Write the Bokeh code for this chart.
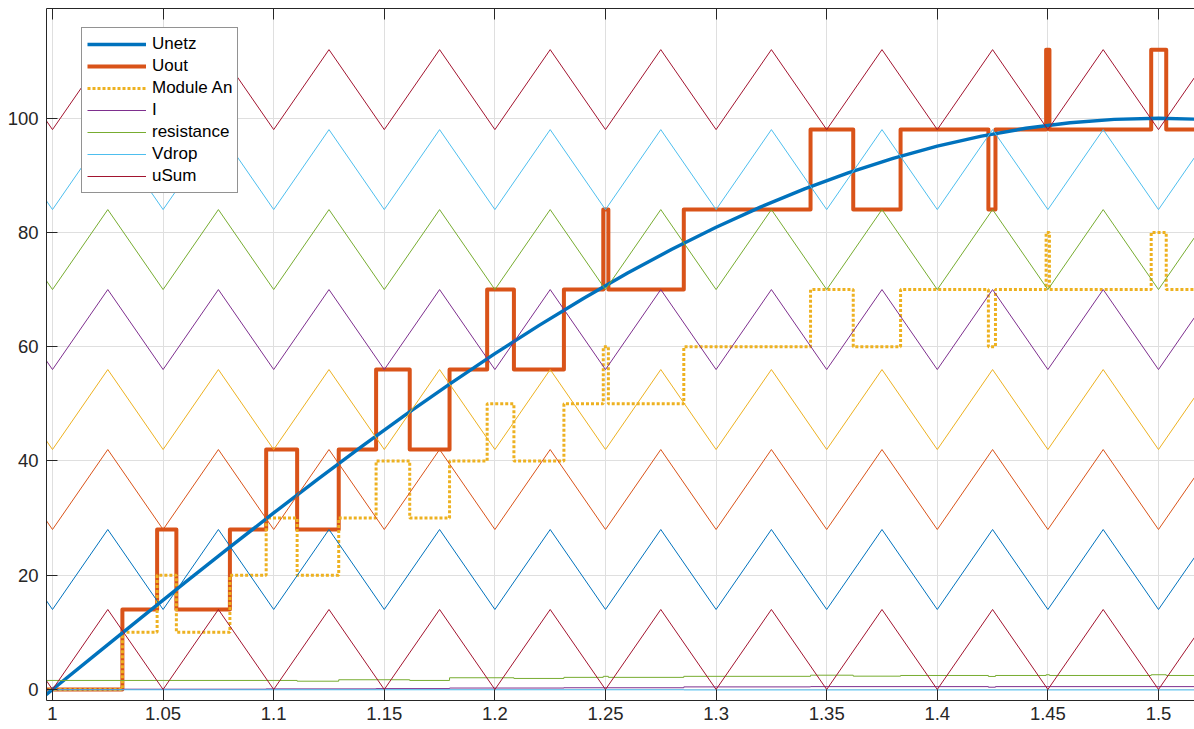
from bokeh.plotting import figure
from bokeh.models import (Range1d, FixedTicker, NumeralTickFormatter, LinearAxis, Legend,
                          LegendItem, CustomJSTickFormatter)
from bokeh.embed import file_html
from bokeh.resources import INLINE

FONT = "Liberation Sans"
AX = "#262626"

# ---------------- data ----------------
x_ticks = [1.0, 1.05, 1.1, 1.15, 1.2, 1.25, 1.3, 1.35, 1.4, 1.45, 1.5]
y_ticks = [0, 20, 40, 60, 80, 100]

# Unetz (grid voltage)
unetz_t = [0.996, 1.00, 1.02, 1.04, 1.06, 1.08, 1.10, 1.12, 1.14, 1.16, 1.18, 1.20, 1.22, 1.24,
           1.26, 1.28, 1.30, 1.32, 1.34, 1.36, 1.38, 1.40, 1.42, 1.44, 1.46, 1.48, 1.50, 1.52]
unetz_v = [-1.26, 0.0, 6.28, 12.53, 18.74, 24.87, 30.90, 36.81, 42.58, 48.18, 53.58, 58.78, 63.74, 68.45,
           72.90, 77.05, 80.90, 84.43, 87.63, 90.48, 92.98, 95.11, 96.86, 98.23, 99.21, 99.80, 100.0, 99.80]

# Uout and Module An (step signals, value holds from each switching time)
step_t = [0.996, 1.0316, 1.0473, 1.0560, 1.0802, 1.0966, 1.1106, 1.1294, 1.1463, 1.1615, 1.1795,
          1.1965, 1.2086, 1.2312, 1.2490, 1.2513, 1.2854, 1.3427, 1.3620, 1.3834, 1.4231, 1.4263,
          1.4492, 1.4507, 1.4967, 1.5035, 1.52]
uout_v = [0, 14, 28, 14, 28, 42, 28, 42, 56, 42, 56, 70, 56, 70, 84, 70, 84, 98, 84, 98, 84, 98,
          112, 98, 112, 98, 98]
modules_v = [0, 10, 20, 10, 20, 30, 20, 30, 40, 30, 40, 50, 40, 50, 60, 50, 60, 70, 60, 70, 60, 70,
             80, 70, 80, 70, 70]

# I
i_t = [0.996, 1.0316, 1.0966, 1.1463, 1.1795, 1.2312, 1.2854, 1.3427, 1.4231, 1.4263, 1.52]
i_v = [0.0, 0.05, 0.1, 0.15, 0.25, 0.3, 0.45, 0.5, 0.4, 0.5, 0.5]

# resistance
res_t = [0.996, 1.1106, 1.1294, 1.1615, 1.1795, 1.2086, 1.2312, 1.2490, 1.2513, 1.2854, 1.3427,
         1.3620, 1.3834, 1.4231, 1.4263, 1.4492, 1.4507, 1.4967, 1.5035, 1.52]
res_v = [1.58, 1.45, 1.7, 1.58, 2.05, 1.93, 2.12, 2.3, 2.12, 2.3, 2.5, 2.33, 2.45, 2.28, 2.45, 2.58,
         2.45, 2.58, 2.45, 2.45]

# Vdrop
vdrop_t = [0.996, 1.2854, 1.52]
vdrop_v = [-0.05, -0.08, -0.08]

# uSum: triangle 0..14, and the 7 carrier triangles stacked above it
tri_t = [0.975, 1.000, 1.025, 1.050, 1.075, 1.100, 1.125, 1.150, 1.175, 1.200, 1.225, 1.250,
         1.275, 1.300, 1.325, 1.350, 1.375, 1.400, 1.425, 1.450, 1.475, 1.500, 1.525]
usum_v = [14, 0, 14, 0, 14, 0, 14, 0, 14, 0, 14, 0, 14, 0, 14, 0, 14, 0, 14, 0, 14, 0, 14]
carrier_offsets = [14, 28, 42, 56, 70, 84, 98]

C_BLUE, C_ORANGE, C_YELLOW = "#0072BD", "#D95319", "#EDB120"
C_PURPLE, C_GREEN, C_LBLUE, C_DRED = "#7E2F8E", "#77AC30", "#4DBEEE", "#A2142F"
carrier_colors = [C_BLUE, C_ORANGE, C_YELLOW, C_PURPLE, C_GREEN, C_LBLUE, C_DRED]

# ---------------- figure ----------------
p = figure(width=1194, height=729, output_backend="svg", toolbar_location=None,
           x_range=Range1d(0.99729, 1.51628), y_range=Range1d(-1.93, 119.2),
           min_border_left=46, min_border_right=0, min_border_top=8, min_border_bottom=29)
p.outline_line_color = None
p.background_fill_color = "white"

xt = FixedTicker(ticks=x_ticks)
yt = FixedTicker(ticks=y_ticks)

for ax in (p.xaxis[0], p.yaxis[0]):
    ax.axis_line_color = AX
    ax.axis_line_width = 1
    ax.major_tick_line_color = AX
    ax.major_tick_in = 11
    ax.major_tick_out = 0
    ax.minor_tick_line_color = None
    ax.major_label_text_font = FONT
    ax.major_label_text_font_size = "18.5px"
    ax.major_label_text_color = AX
p.xaxis[0].ticker = xt
p.xaxis[0].formatter = NumeralTickFormatter(format="0.[00]")
p.xaxis[0].major_label_standoff = 6
p.yaxis[0].ticker = yt
p.yaxis[0].major_label_standoff = 8

top = LinearAxis(ticker=xt, formatter=CustomJSTickFormatter(code="return ''"),
                 major_label_standoff=0, major_label_text_color=None,
                 major_tick_in=11, major_tick_out=0, axis_line_color=AX,
                 major_tick_line_color=AX, minor_tick_line_color=None)
p.add_layout(top, "above")

p.xgrid.grid_line_color = "#dfdfdf"
p.ygrid.grid_line_color = "#dfdfdf"
p.xgrid.ticker = xt
p.ygrid.ticker = yt

# ---------------- lines ----------------
r_uout = p.step(step_t, uout_v, mode="after", line_color=C_ORANGE, line_width=4, line_join="round")
r_mod = p.step(step_t, modules_v, mode="after", line_color=C_YELLOW, line_width=3,
               line_dash="3 2")
r_unetz = p.line(unetz_t, unetz_v, line_color=C_BLUE, line_width=3.4)
r_i = p.step(i_t, i_v, mode="after", line_color=C_PURPLE, line_width=1)
r_res = p.step(res_t, res_v, mode="after", line_color=C_GREEN, line_width=1)
r_vd = p.step(vdrop_t, vdrop_v, mode="after", line_color=C_LBLUE, line_width=1)
r_usum = p.line(tri_t, usum_v, line_color=C_DRED, line_width=1)

for off, col in zip(carrier_offsets, carrier_colors):
    p.line(tri_t, [v + off for v in usum_v], line_color=col, line_width=1)

legend = Legend(items=[
    LegendItem(label="Unetz", renderers=[r_unetz]),
    LegendItem(label="Uout", renderers=[r_uout]),
    LegendItem(label="Module An", renderers=[r_mod]),
    LegendItem(label="I", renderers=[r_i]),
    LegendItem(label="resistance", renderers=[r_res]),
    LegendItem(label="Vdrop", renderers=[r_vd]),
    LegendItem(label="uSum", renderers=[r_usum]),
], location=(35, 507))
legend.label_text_font = FONT
legend.label_text_font_size = "17px"
legend.label_text_color = "#000000"
legend.glyph_width = 59
legend.glyph_height = 22
legend.label_height = 22
legend.label_standoff = 6
legend.padding = 5
legend.spacing = 0
legend.margin = 0
legend.border_line_color = AX
legend.border_line_width = 1
legend.background_fill_color = "white"
legend.background_fill_alpha = 1
legend.click_policy = "none"
p.add_layout(legend, "center")

open("out.html", "w").write(file_html(p, INLINE))
